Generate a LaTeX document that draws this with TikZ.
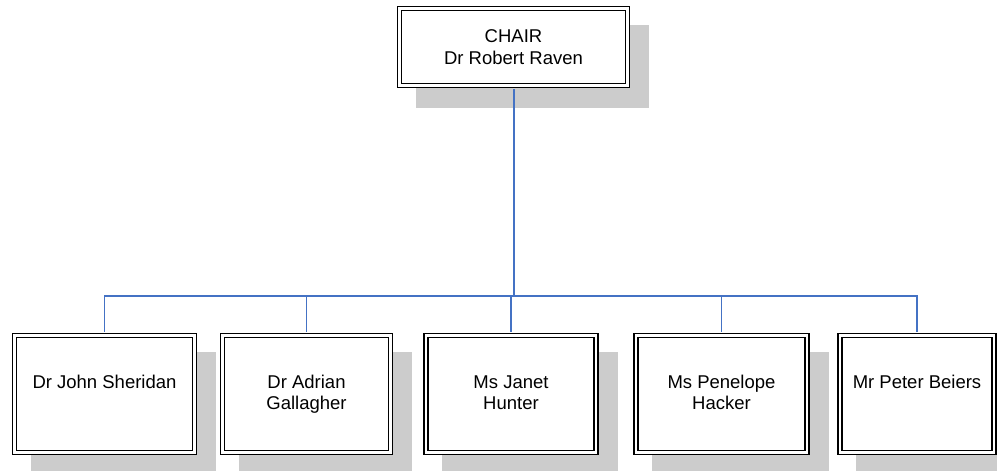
\documentclass[tikz,border=0pt]{standalone}
\usepackage{fontspec}
\setmainfont{Liberation Sans}
\usetikzlibrary{shadows}
\definecolor{linkblue}{RGB}{68,114,196}
\definecolor{shadowgray}{RGB}{204,204,204}

\begin{document}
\begin{tikzpicture}[x=1pt,y=-1pt,line join=miter,
    font=\fontsize{18.5}{21.5}\selectfont,
    post/.style={rectangle,draw,double,line width=1.5pt,double distance=2.5pt,
      fill=white,inner sep=0pt,align=center,
      general shadow={fill=shadowgray,draw=shadowgray,line width=5.5pt,
        shadow xshift=19pt,shadow yshift=-19.5pt}},
    member/.style={post,text height=#1,text depth=117pt-#1},
    link/.style={linkblue,line width=1.3pt}]
  \useasboundingbox (0,0) rectangle (997,471);
% ================= chair =================
  \node[post,minimum width=228pt,minimum height=77pt] (chair) at (513.5,47)
      {CHAIR\\Dr Robert Raven};
% ================= members =================
  % top of text at the same height in all boxes
  \foreach \n/\x/\w/\a/\t in {john/104.5/180/52.5/{Dr John Sheridan},
      adrian/306.5/168/74/{Dr Adrian\\Gallagher},
      janet/511/170/74/{Ms Janet\\Hunter},
      penelope/721.5/171/74/{Ms Penelope\\Hacker},
      peter/917/154/52.5/{Mr Peter Beiers}}
    \node[member=\a pt,minimum width=\w pt] (\n) at (\x,394) {\t};
% ================= lines =================
  \coordinate (hub) at (513.5,296);
  \draw[link,line width=2pt,shorten <=2.75pt] (chair.south) -- (hub);
  \foreach \n in {john,adrian,janet,penelope,peter}
    \draw[link,shorten >=2.75pt] (hub) -| (\n.north);
\end{tikzpicture}
\end{document}
